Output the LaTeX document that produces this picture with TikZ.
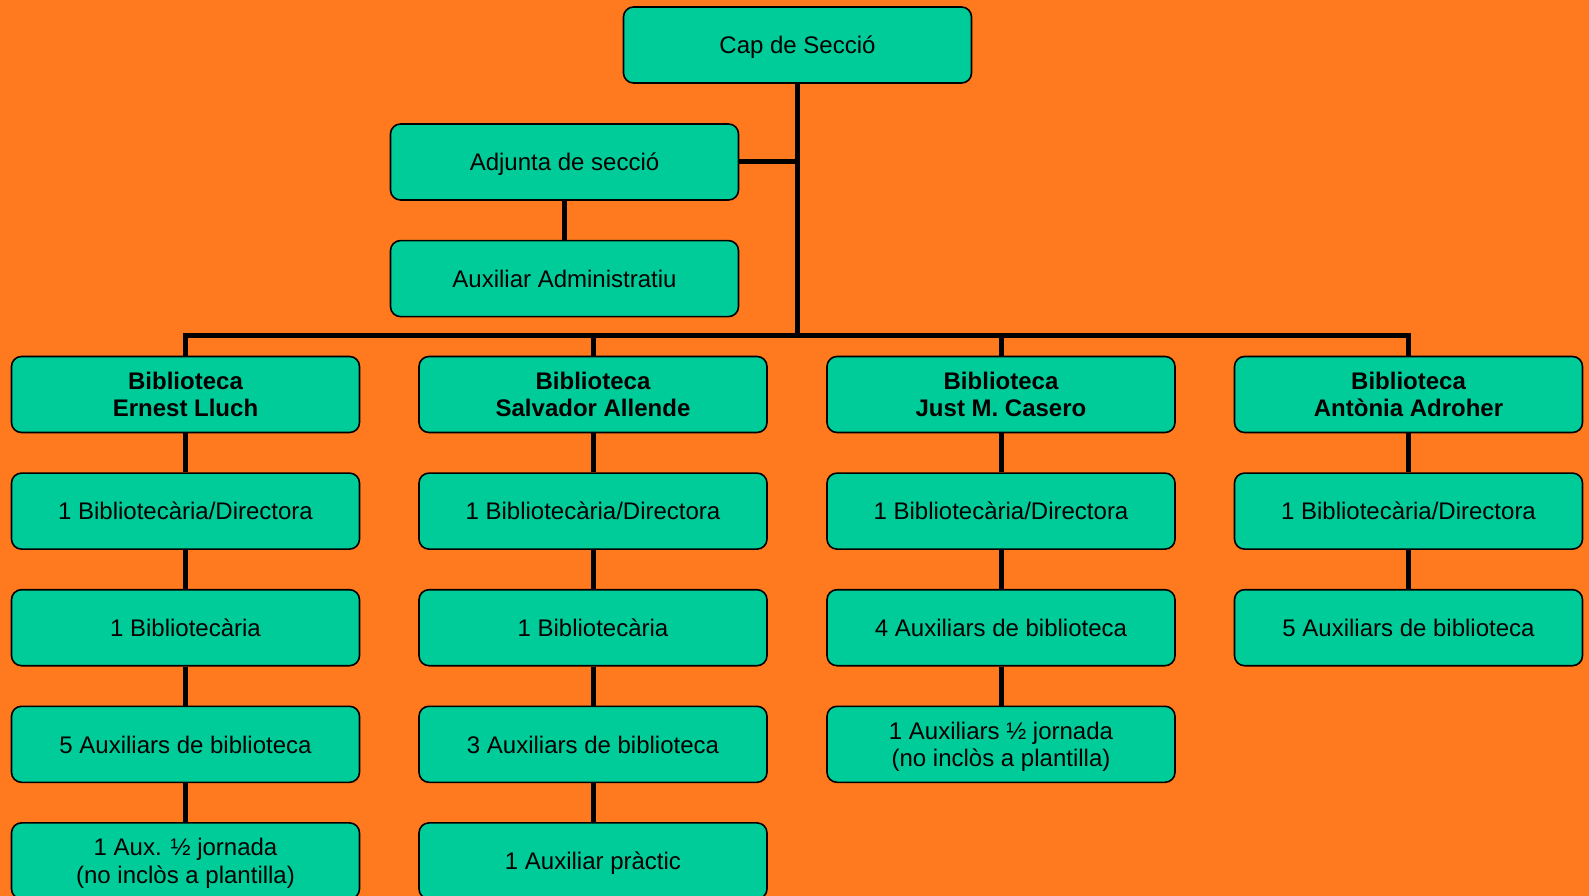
\documentclass[tikz,border=0pt]{standalone}
\usepackage{fontspec}
\setmainfont{Liberation Sans}
\usetikzlibrary{positioning}
\definecolor{fons}{RGB}{255,122,30}
\definecolor{caixa}{RGB}{0,204,153}
\tikzset{
  lloc/.style={draw=black, line width=1.6pt, fill=caixa, rounded corners=10pt,
    minimum width=348pt, minimum height=76pt, inner sep=2pt, align=center,
    text depth=0pt, font=\fontsize{24}{27.5}\selectfont},
  bib/.style={lloc, font=\fontsize{24}{27.5}\selectfont\bfseries},
  linia/.style={line width=5pt}
}

\begin{document}
\begin{tikzpicture}[x=1pt,y=-1pt]
  \fill[fons] (0,0) rectangle (1589,896);
  \useasboundingbox (0,0) rectangle (1589,896);
  \clip (0,0) rectangle (1589,896);

  % direccio
  \node[lloc] (cap) at (797.5,45) {Cap de Secció};
  \node[lloc] (adj) at (564.5,162) {Adjunta de secció};
  \node[lloc, below=39pt of adj] (admin) {Auxiliar Administratiu};
  \coordinate (bus) at (797.5,335);

  % biblioteques
  \node[bib] (b1) at (185.5,394.5) {Biblioteca\\Ernest Lluch};
  \node[bib] (b2) at (593,394.5) {Biblioteca\\Salvador Allende};
  \node[bib] (b3) at (1001,394.5) {Biblioteca\\Just M. Casero};
  \node[bib] (b4) at (1408.5,394.5) {Biblioteca\\Antònia Adroher};

  \node[lloc, below=39pt of b1] (b1dir) {1 Bibliotecària/Directora};
  \node[lloc, below=39pt of b1dir] (b1bib) {1 Bibliotecària};
  \node[lloc, below=39pt of b1bib] (b1aux) {5 Auxiliars de biblioteca};
  \node[lloc, below=39pt of b1aux] (b1mig) {1 Aux. ½ jornada\\(no inclòs a plantilla)};

  \node[lloc, below=39pt of b2] (b2dir) {1 Bibliotecària/Directora};
  \node[lloc, below=39pt of b2dir] (b2bib) {1 Bibliotecària};
  \node[lloc, below=39pt of b2bib] (b2aux) {3 Auxiliars de biblioteca};
  \node[lloc, below=39pt of b2aux] (b2pra) {1 Auxiliar pràctic};

  \node[lloc, below=39pt of b3] (b3dir) {1 Bibliotecària/Directora};
  \node[lloc, below=39pt of b3dir] (b3aux) {4 Auxiliars de biblioteca};
  \node[lloc, below=39pt of b3aux] (b3mig) {1 Auxiliars ½ jornada\\(no inclòs a plantilla)};

  \node[lloc, below=39pt of b4] (b4dir) {1 Bibliotecària/Directora};
  \node[lloc, below=39pt of b4dir] (b4aux) {5 Auxiliars de biblioteca};

  % connexions
  \draw[linia] (cap.south) -- (bus);
  \draw[linia] (adj.east) -- (adj.east -| cap.south);
  \draw[linia] (adj) -- (admin);
  \draw[linia] (b1.north) |- (bus) -| (b4.north);
  \draw[linia] (b2.north) -- (b2.north |- bus);
  \draw[linia] (b3.north) -- (b3.north |- bus);

  \draw[linia] (b1) -- (b1dir);
  \draw[linia] (b1dir) -- (b1bib);
  \draw[linia] (b1bib) -- (b1aux);
  \draw[linia] (b1aux) -- (b1mig);

  \draw[linia] (b2) -- (b2dir);
  \draw[linia] (b2dir) -- (b2bib);
  \draw[linia] (b2bib) -- (b2aux);
  \draw[linia] (b2aux) -- (b2pra);

  \draw[linia] (b3) -- (b3dir);
  \draw[linia] (b3dir) -- (b3aux);
  \draw[linia] (b3aux) -- (b3mig);

  \draw[linia] (b4) -- (b4dir);
  \draw[linia] (b4dir) -- (b4aux);
\end{tikzpicture}
\end{document}
